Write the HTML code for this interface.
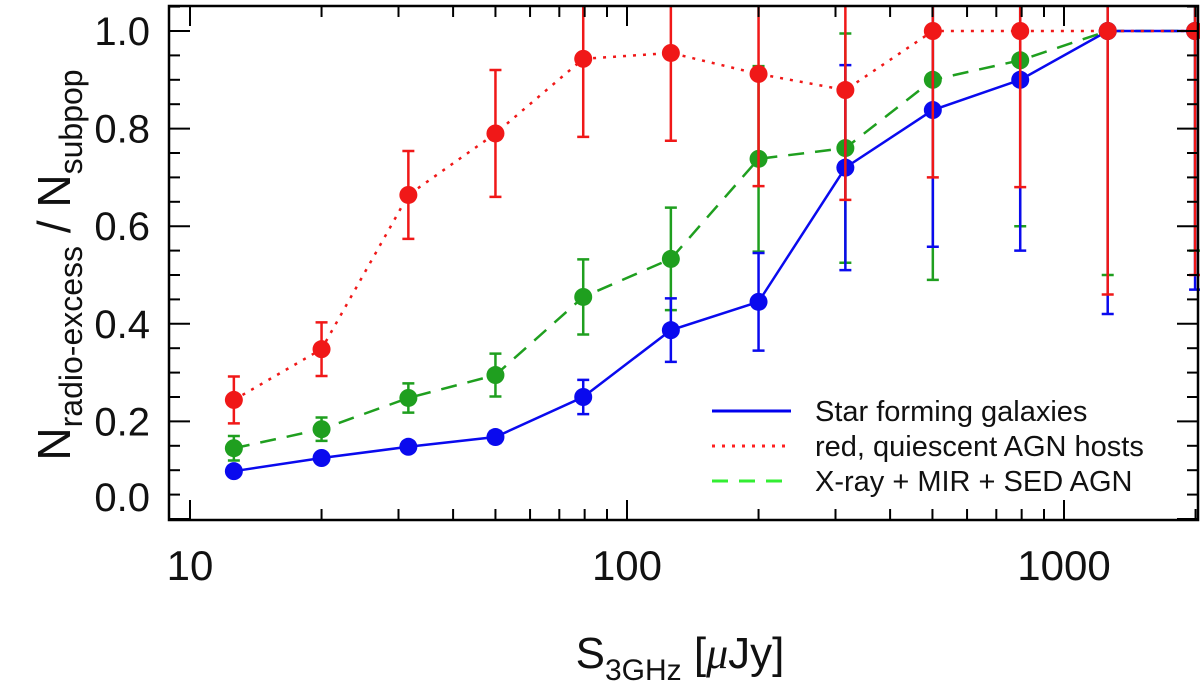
<!DOCTYPE html>
<html><head><meta charset="utf-8"><style>
html,body{margin:0;padding:0;background:#fff;}
svg{display:block;font-family:"Liberation Sans",sans-serif;}
</style></head><body>
<svg id="chart" width="1200" height="690" viewBox="0 0 1200 690" xmlns="http://www.w3.org/2000/svg">
<g id="grid"></g>
<g id="series"></g>
<rect x="169" y="6" width="1029" height="514" fill="none" stroke="#000" stroke-width="2.5"/>
<g id="axes"></g>
<g>
 <line x1="712" y1="411" x2="791" y2="411" stroke="#0000ee" stroke-width="3"/>
 <text x="815" y="421" font-size="29" fill="#111">Star forming galaxies</text>
 <line x1="712" y1="446" x2="791" y2="446" stroke="#ff2020" stroke-width="3" stroke-dasharray="3,7"/>
 <text x="815" y="456" font-size="29" fill="#111">red, quiescent AGN hosts</text>
 <line x1="712" y1="481" x2="791" y2="481" stroke="#33ee33" stroke-width="3" stroke-dasharray="16,11"/>
 <text x="815" y="491" font-size="29" fill="#111">X-ray + MIR + SED AGN</text>
</g>
<text x="680" y="668" font-size="44" text-anchor="middle" fill="#111">S<tspan font-size="30" dy="12">3GHz</tspan><tspan dy="-12"> [</tspan><tspan font-family="Liberation Serif" font-style="italic">μ</tspan>Jy]</text>
<text transform="translate(70,265) rotate(-90)" font-size="46" text-anchor="middle" fill="#111">N<tspan font-size="32" dy="12">radio-excess</tspan><tspan dy="-12"> / N</tspan><tspan font-size="32" dy="12">subpop</tspan></text>
</svg>
<script>
const xs = [12.6, 20, 31.6, 50, 79.4, 126, 200, 316, 501, 794, 1259, 1995];
const blueVals = [0.098, 0.125, 0.148, 0.168, 0.25, 0.387, 0.445, 0.72, 0.838, 0.9, 1.0, 1.0];
const blueErr = [0.008, 0.01, 0.01, 0.012, 0.035, 0.065, 0.1, 0.21, 0.28, 0.35, 0.58, 0.53];
const greenVals = [0.145, 0.184, 0.248, 0.295, 0.455, 0.533, 0.738, 0.76, 0.9, 0.94, 1.0, 1.0];
const greenErr = [0.025, 0.024, 0.03, 0.044, 0.077, 0.105, 0.19, 0.235, 0.41, 0.34, 0.5, 0.45];
const redVals = [0.244, 0.348, 0.664, 0.79, 0.943, 0.955, 0.912, 0.879, 1.0, 1.0, 1.0, 1.0];
const redErr = [0.048, 0.055, 0.09, 0.13, 0.16, 0.18, 0.23, 0.225, 0.3, 0.32, 0.54, 0.5];
const xTickVals = [10, 100, 1000];
const xTickLabels = ["10", "100", "1000"];
const yTickVals = [0, 0.2, 0.4, 0.6, 0.8, 1.0];
const yTickLabels = ["0.0", "0.2", "0.4", "0.6", "0.8", "1.0"];

const L=169,R=1198,T=6,B=520;
function X(v){return 190 + (Math.log10(v)-1)*437;}
function Y(v){return 519 - v*488;}
const NS="http://www.w3.org/2000/svg";
function mk(tag,attrs,parent){const e=document.createElementNS(NS,tag);for(const k in attrs)e.setAttribute(k,attrs[k]);parent.appendChild(e);return e;}
const axes=document.getElementById('axes');
const ser=document.getElementById('series');

for(let d=10;d<=2000;d*=10){for(let m=1;m<10;m++){const v=d*m;const x=X(v);if(x<L||x>R)continue;const len=m===1?20:11;
 const t1=mk('line',{x1:x,y1:B,x2:x,y2:B-len,stroke:'#000','stroke-width':2},axes);
 
 
 const t2=mk('line',{x1:x,y1:T,x2:x,y2:T+len,stroke:'#000','stroke-width':2},axes);
 
 
}}
xTickVals.forEach((v,i)=>{const t=mk('text',{x:X(v),y:580,'font-size':42,'text-anchor':'middle',fill:'#111'},axes);t.textContent=xTickLabels[i];
 
 
});
for(let i=0;i<=21;i++){const v=i*0.05;const y=Y(v);if(y<T)continue;const len=(i%4===0)?21:11;
 const a=mk('line',{x1:L,y1:y,x2:L+len,y2:y,stroke:'#000','stroke-width':2},axes);
 
 
 const b=mk('line',{x1:R,y1:y,x2:R-len,y2:y,stroke:'#000','stroke-width':2},axes);
 
 
}
yTickVals.forEach((v,i)=>{let y=Y(v)+14; if(v===0) y=Y(v)-8;
 const t=mk('text',{x:150,y:y,'font-size':40,'text-anchor':'end',fill:'#111'},axes);t.textContent=yTickLabels[i];
 
 
});

function drawSeries(name,vals,errs,color,dash){
 const g=mk('g',{},ser);
 
 
 vals.forEach((v,i)=>{const x=X(xs[i]);const yh=Math.max(Y(v+errs[i]),T);const yl=Math.min(Y(v-errs[i]),B);
  const e=mk('path',{d:`M${x},${yh}V${yl}M${x-6},${yl}H${x+6}`+(Y(v+errs[i])>T?`M${x-6},${yh}H${x+6}`:''),stroke:color,'stroke-width':2.5,fill:'none'},g);
  
  
 });
 const pts=vals.map((v,i)=>X(xs[i])+','+Y(v)).join(' ');
 const pl=mk('polyline',{points:pts,fill:'none',stroke:color,'stroke-width':2.5,'stroke-dasharray':dash},g);
 
 
 vals.forEach((v,i)=>{const c=mk('circle',{cx:X(xs[i]),cy:Y(v),r:9,fill:color},g);
  
  
 });
}
drawSeries('agn',greenVals,greenErr,'#1f9f1f','16,11');
drawSeries('sf',blueVals,blueErr,'#0a0aee','none');
drawSeries('red',redVals,redErr,'#f01818','3,7');
</script>
</body></html>
